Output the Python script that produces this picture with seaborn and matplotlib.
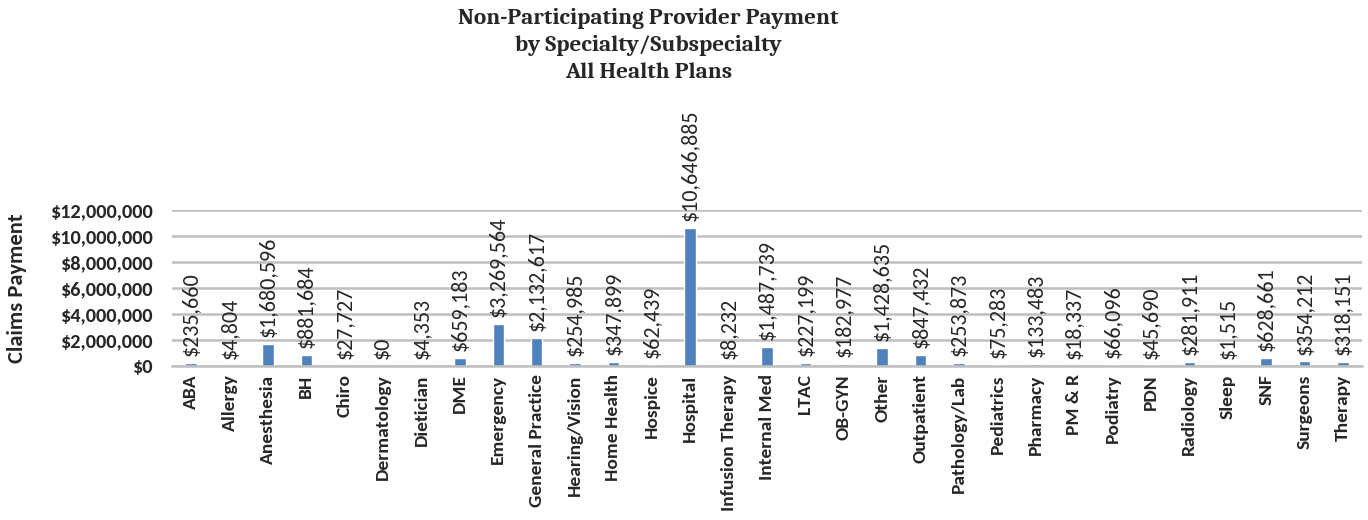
import numpy as np
import pandas as pd
import matplotlib
matplotlib.use("Agg")
import matplotlib.pyplot as plt
import seaborn as sns
from matplotlib.ticker import FuncFormatter

# ---------- data ----------
specialties = ["ABA", "Allergy", "Anesthesia", "BH", "Chiro", "Dermatology", "Dietician",
               "DME", "Emergency", "General Practice", "Hearing/Vision", "Home Health",
               "Hospice", "Hospital", "Infusion Therapy", "Internal Med", "LTAC", "OB-GYN",
               "Other", "Outpatient", "Pathology/Lab", "Pediatrics", "Pharmacy", "PM & R",
               "Podiatry", "PDN", "Radiology", "Sleep", "SNF", "Surgeons", "Therapy"]
payments = [235660, 4804, 1680596, 881684, 27727, 0, 4353,
            659183, 3269564, 2132617, 254985, 347899,
            62439, 10646885, 8232, 1487739, 227199, 182977,
            1428635, 847432, 253873, 75283, 133483, 18337,
            66096, 45690, 281911, 1515, 628661, 354212, 318151]
yticks = [0, 2000000, 4000000, 6000000, 8000000, 10000000, 12000000]

df = pd.DataFrame({"Specialty": specialties, "Payment": payments})

sns.set_style("white")
plt.rcParams['font.family'] = ['Carlito', 'DejaVu Sans']

fig = plt.figure(figsize=(13.68, 5.2), dpi=100)
ax = fig.add_axes([0.1257, 0.296, 0.87, 0.30])

sns.barplot(data=df, x="Specialty", y="Payment", color="#4F81BD", saturation=1,
            width=0.3, ax=ax)

ax.set_ylim(0, 12000000)
ax.set_xlim(-0.5, len(specialties) - 0.5)
ax.set_yticks(yticks)
ax.yaxis.set_major_formatter(FuncFormatter(lambda v, p: f"${v:,.0f}"))
ax.grid(axis='y', color='#BFBFBF', linewidth=1.8)
ax.set_axisbelow(True)
for s in ['top', 'right', 'left']:
    ax.spines[s].set_visible(False)
ax.spines['bottom'].set_color('#BFBFBF')
ax.spines['bottom'].set_linewidth(1.8)
ax.tick_params(axis='both', length=0)
ax.tick_params(axis='y', labelsize=14.6, pad=14)
ax.tick_params(axis='x', labelsize=14, pad=6)
for t in ax.get_yticklabels():
    t.set_fontweight('bold')
ax.set_xticks(range(len(specialties)))
ax.set_xticklabels(specialties, rotation=90, fontweight='bold', va='top')

ax.set_xlabel("")
ax.set_ylabel("Claims Payment", fontsize=16.2, fontweight='bold')
ax.yaxis.set_label_coords(-0.122, 0.5)

for i, v in enumerate(payments):
    ax.annotate(f"${v:,.0f}", xy=(i, v), xytext=(0, 5), textcoords='offset points',
                rotation=90, ha='center', va='bottom', fontsize=15.8,
                annotation_clip=False)

fig.text(0.474, 0.985, "Non-Participating Provider Payment\nby Specialty/Subspecialty\nAll Health Plans",
         ha='center', va='top', fontsize=16.7, fontweight='bold', family='Caladea',
         linespacing=1.4)

fig.savefig("out.png", dpi=100)
